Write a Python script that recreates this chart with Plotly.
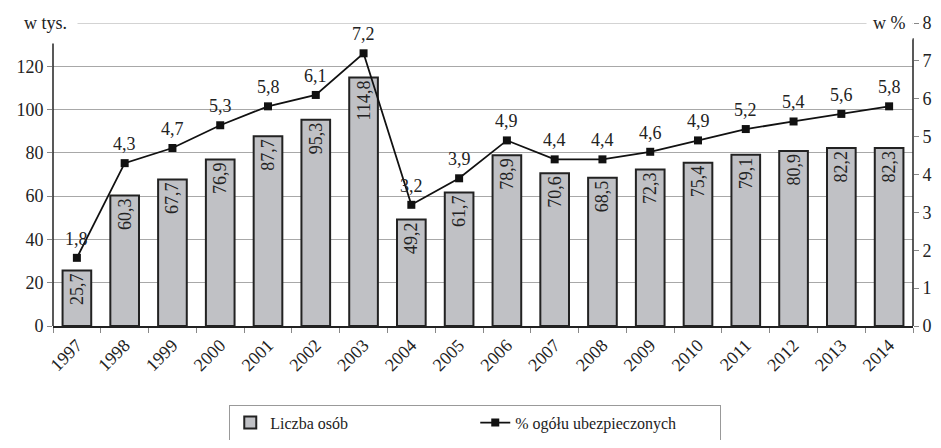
import plotly.graph_objects as go

years = [str(y) for y in range(1997, 2015)]
liczba_osob = [25.7, 60.3, 67.7, 76.9, 87.7, 95.3, 114.8, 49.2, 61.7,
               78.9, 70.6, 68.5, 72.3, 75.4, 79.1, 80.9, 82.2, 82.3]
procent = [1.8, 4.3, 4.7, 5.3, 5.8, 6.1, 7.2, 3.2, 3.9,
           4.9, 4.4, 4.4, 4.6, 4.9, 5.2, 5.4, 5.6, 5.8]
left_ticks = [0, 20, 40, 60, 80, 100, 120, 140]
right_ticks = [0, 1, 2, 3, 4, 5, 6, 7, 8]


def fmt(v):
    return f"{v:.1f}".replace(".", ",")


FONT = "Liberation Serif, Times New Roman, serif"

fig = go.Figure()
fig.add_trace(go.Bar(
    x=years, y=liczba_osob, name="Liczba osób",
    marker=dict(color="#c0c1c5", line=dict(color="#222222", width=2)),
    width=0.6,
    text=[fmt(v) for v in liczba_osob],
    textposition="inside", insidetextanchor="end", textangle=-90,
    textfont=dict(size=18, color="#222222", family=FONT),
    cliponaxis=False,
))
fig.add_trace(go.Scatter(
    x=years, y=procent, name="% ogółu ubezpieczonych", yaxis="y2",
    mode="lines+markers",
    line=dict(color="#111111", width=1.8),
    marker=dict(symbol="square", size=8, color="#111111"),
    cliponaxis=False,
))

# labels above the line points (category axis -> positions by index)
for i, v in enumerate(procent):
    fig.add_annotation(x=i, y=v, xref="x", yref="y2", text=fmt(v),
                       showarrow=False, yshift=19,
                       font=dict(size=18, color="#222222"))

# page body has an 8px margin, so the figure is sized to fit inside it
fig.update_layout(
    width=925, height=432,
    margin=dict(l=45, r=20, t=15, b=114),
    paper_bgcolor="white", plot_bgcolor="white",
    font=dict(family=FONT, size=18, color="#222222"),
    xaxis=dict(
        type="category", range=[-0.5, len(years) - 0.5],
        tickangle=-45, ticks="outside", tickson="boundaries",
        ticklen=5, tickcolor="#888888", showline=True, linecolor="#222222",
        linewidth=1.5, showgrid=False, tickfont=dict(size=18), automargin=False,
    ),
    yaxis=dict(
        range=[0, 140], tickvals=left_ticks,
        ticktext=[str(t) for t in left_ticks[:-1]] + [""],
        showgrid=True, gridcolor="#a8a8a8", gridwidth=1,
        showline=False, ticks="outside", ticklen=5, tickcolor="#888888",
        zeroline=False, tickfont=dict(size=18), automargin=False,
    ),
    yaxis2=dict(
        range=[0, 8], tickvals=right_ticks, overlaying="y", side="right",
        showgrid=False, showline=False, ticks="outside", ticklen=5,
        tickcolor="#888888", zeroline=False, tickfont=dict(size=18),
        automargin=False,
    ),
    showlegend=True,
    legend=dict(
        orientation="h", x=0.491, xanchor="center",
        yref="container", y=0.04, yanchor="middle",
        bordercolor="#999999", borderwidth=1, font=dict(size=16),
        entrywidth=200, entrywidthmode="pixels",
    ),
)

# top gridline, interrupted by the unit labels
fig.add_shape(type="line", xref="paper", yref="y", x0=0.0, x1=1.0,
              y0=140, y1=140, line=dict(color="#a8a8a8", width=1), layer="below")

# vertical axis lines (start a bit below the top gridline)
for xr in (0, 1):
    fig.add_shape(type="line", xref="paper", yref="y", x0=xr, x1=xr,
                  y0=0, y1=133, line=dict(color="#222222", width=1.5))

fig.add_annotation(text="w tys.", xref="paper", yref="paper", x=-0.047, y=1.0,
                   xanchor="left", yanchor="middle", showarrow=False,
                   bgcolor="white", borderpad=10, font=dict(size=18))
fig.add_annotation(text="w %", xref="paper", yref="paper", x=1.0, y=1.0,
                   xanchor="right", yanchor="middle", showarrow=False,
                   bgcolor="white", borderpad=6, font=dict(size=18))

fig.write_html("out.html")
